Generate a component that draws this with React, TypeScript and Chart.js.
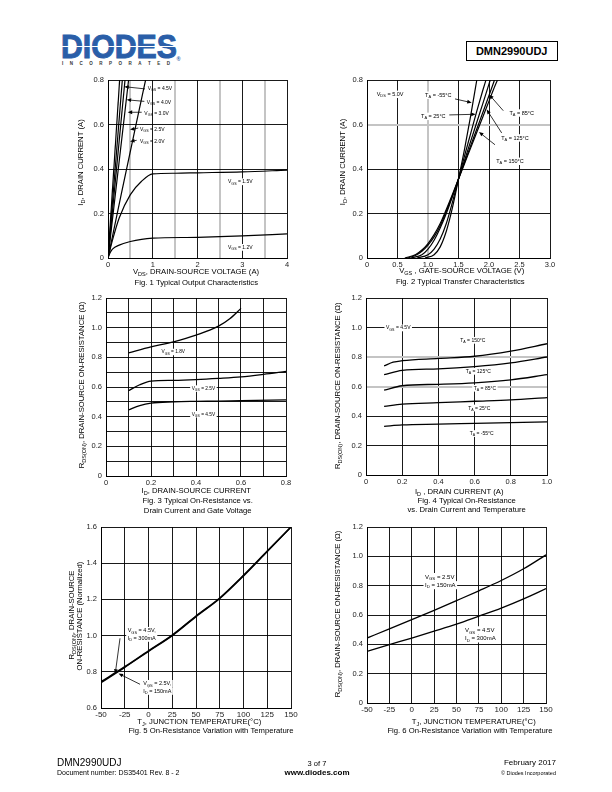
import React, { useEffect, useRef } from 'react';
import { Chart, registerables } from 'chart.js';

Chart.register(...registerables);

const FONT = '"Liberation Sans", Arial, Helvetica, sans-serif';

// ================= Fig. 1  Typical Output Characteristics =================
const F1_X_TICKS = [0, 0.5, 1, 1.5, 2, 2.5, 3, 3.5, 4];
const F1_X_LABELS = ['0', '', '1', '', '2', '', '3', '', '4'];
const F1_Y_TICKS = [0, 0.2, 0.4, 0.6, 0.8];
const F1_Y_LABELS = ['0', '0.2', '0.4', '0.6', '0.8'];
const F1_VGS_4_5 = [[0, 0], [0.26, 0.8]];
const F1_VGS_4_0 = [[0, 0], [0.32, 0.8]];
const F1_VGS_3_0 = [[0, 0], [0.38, 0.8]];
const F1_VGS_2_5 = [[0, 0], [0.46, 0.8]];
const F1_VGS_2_0 = [[0, 0], [0.3, 0.29], [0.6, 0.575], [0.84, 0.8]];
const F1_VGS_1_5 = [[0, 0], [0.1, 0.08], [0.25, 0.18], [0.5, 0.285], [0.75, 0.345], [1, 0.378], [1.5, 0.381], [2, 0.383], [3, 0.387], [4, 0.395]];
const F1_VGS_1_2 = [[0, 0], [0.05, 0.025], [0.1, 0.04], [0.25, 0.058], [0.5, 0.074], [0.75, 0.084], [1, 0.089], [2, 0.093], [3, 0.099], [4, 0.108]];

// ================= Fig. 2  Typical Transfer Characteristics =================
const F2_X_TICKS = [0, 0.5, 1, 1.5, 2, 2.5, 3];
const F2_X_LABELS = ['0', '0.5', '1.0', '1.5', '2.0', '2.5', '3.0'];
const F2_Y_TICKS = [0, 0.2, 0.4, 0.6, 0.8];
const F2_Y_LABELS = ['0', '0.2', '0.4', '0.6', '0.8'];
const F2_TA_M55 = [[0.95, 0], [1.1, 0.015], [1.2, 0.05], [1.3, 0.12], [1.4, 0.225], [1.5, 0.355], [1.6, 0.49], [1.7, 0.64], [1.8, 0.8]];
const F2_TA_25 = [[0.82, 0], [1.0, 0.015], [1.1, 0.04], [1.2, 0.085], [1.3, 0.155], [1.4, 0.25], [1.5, 0.355], [1.6, 0.46], [1.7, 0.56], [1.8, 0.66], [1.9, 0.755], [1.95, 0.8]];
const F2_TA_85 = [[0.72, 0], [0.9, 0.015], [1.0, 0.04], [1.1, 0.08], [1.2, 0.135], [1.3, 0.2], [1.4, 0.275], [1.5, 0.355], [1.6, 0.44], [1.7, 0.525], [1.8, 0.61], [1.9, 0.695], [2.02, 0.8]];
const F2_TA_125 = [[0.66, 0], [0.8, 0.012], [0.9, 0.03], [1.0, 0.058], [1.1, 0.095], [1.2, 0.145], [1.3, 0.21], [1.4, 0.28], [1.5, 0.355], [1.6, 0.43], [1.7, 0.505], [1.8, 0.58], [1.9, 0.655], [2.0, 0.73], [2.09, 0.8]];
const F2_TA_150 = [[0.62, 0], [0.8, 0.016], [0.9, 0.036], [1.0, 0.065], [1.1, 0.105], [1.2, 0.155], [1.3, 0.218], [1.4, 0.285], [1.5, 0.355], [1.6, 0.425], [1.7, 0.495], [1.8, 0.565], [1.9, 0.635], [2.0, 0.705], [2.1, 0.775], [2.14, 0.8]];

// ================= Fig. 3  On-Resistance vs Drain Current and Gate Voltage =================
const F3_X_TICKS = [0, 0.1, 0.2, 0.3, 0.4, 0.5, 0.6, 0.7, 0.8];
const F3_X_LABELS = ['0', '', '0.2', '', '0.4', '', '0.6', '', '0.8'];
const F3_Y_TICKS = [0, 0.1, 0.2, 0.3, 0.4, 0.5, 0.6, 0.7, 0.8, 0.9, 1.0, 1.1, 1.2];
const F3_Y_LABELS = ['0', '', '0.2', '', '0.4', '', '0.6', '', '0.8', '', '1.0', '', '1.2'];
const F3_VGS_1_8 = [[0.1, 0.83], [0.2, 0.87], [0.3, 0.905], [0.4, 0.95], [0.5, 1.01], [0.55, 1.06], [0.6, 1.13]];
const F3_VGS_2_5 = [[0.1, 0.575], [0.15, 0.615], [0.2, 0.64], [0.3, 0.645], [0.4, 0.65], [0.5, 0.658], [0.6, 0.668], [0.7, 0.685], [0.8, 0.705]];
const F3_VGS_4_5 = [[0.1, 0.445], [0.15, 0.475], [0.2, 0.492], [0.3, 0.5], [0.4, 0.503], [0.5, 0.505], [0.6, 0.508], [0.8, 0.513]];

// ================= Fig. 4  On-Resistance vs Drain Current and Temperature =================
const F4_X_TICKS = [0, 0.2, 0.4, 0.6, 0.8, 1.0];
const F4_X_LABELS = ['0', '0.2', '0.4', '0.6', '0.8', '1.0'];
const F4_Y_TICKS = [0, 0.2, 0.4, 0.6, 0.8, 1.0, 1.2];
const F4_Y_LABELS = ['0', '0.2', '0.4', '0.6', '0.8', '1.0', '1.2'];
const F4_TA_150 = [[0.1, 0.74], [0.15, 0.765], [0.2, 0.775], [0.4, 0.79], [0.6, 0.805], [0.8, 0.84], [1.0, 0.89]];
const F4_TA_125 = [[0.1, 0.68], [0.2, 0.71], [0.4, 0.72], [0.6, 0.735], [0.8, 0.76], [1.0, 0.8]];
const F4_TA_85 = [[0.1, 0.575], [0.2, 0.605], [0.4, 0.615], [0.6, 0.625], [0.8, 0.645], [1.0, 0.68]];
const F4_TA_25 = [[0.1, 0.465], [0.2, 0.48], [0.4, 0.49], [0.6, 0.5], [0.8, 0.51], [1.0, 0.525]];
const F4_TA_M55 = [[0.1, 0.33], [0.2, 0.34], [0.4, 0.345], [0.6, 0.35], [0.8, 0.355], [1.0, 0.36]];

// ================= Fig. 5  Normalized On-Resistance vs Temperature =================
const F5_X_TICKS = [-50, -25, 0, 25, 50, 75, 100, 125, 150];
const F5_X_LABELS = ['-50', '-25', '0', '25', '50', '75', '100', '125', '150'];
const F5_Y_TICKS = [0.6, 0.8, 1.0, 1.2, 1.4, 1.6];
const F5_Y_LABELS = ['0.6', '0.8', '1.0', '1.2', '1.4', '1.6'];
const F5_VGS_4_5 = [[-50, 0.74], [-25, 0.825], [0, 0.913], [25, 1.0], [50, 1.105], [75, 1.205], [100, 1.33], [125, 1.465], [150, 1.6]];
const F5_VGS_2_5 = [[-50, 0.745], [-25, 0.828], [0, 0.916], [25, 1.003], [50, 1.108], [75, 1.208], [100, 1.333], [125, 1.467], [150, 1.6]];

// ================= Fig. 6  On-Resistance vs Temperature =================
const F6_X_TICKS = [-50, -25, 0, 25, 50, 75, 100, 125, 150];
const F6_X_LABELS = ['-50', '-25', '0', '25', '50', '75', '100', '125', '150'];
const F6_Y_TICKS = [0, 0.2, 0.4, 0.6, 0.8, 1.0, 1.2];
const F6_Y_LABELS = ['0', '0.2', '0.4', '0.6', '0.8', '1.0', '1.2'];
const F6_VGS_2_5 = [[-50, 0.443], [-25, 0.505], [0, 0.568], [25, 0.632], [50, 0.698], [75, 0.765], [100, 0.835], [125, 0.915], [150, 1.01]];
const F6_VGS_4_5 = [[-50, 0.352], [-25, 0.398], [0, 0.443], [25, 0.49], [50, 0.538], [75, 0.592], [100, 0.647], [125, 0.71], [150, 0.78]];

// ---------------------------------------------------------------------------
type Ann = { lines: string[]; x: number; y: number; align?: string; arrow?: number[]; bg?: boolean };
type Txt = { text: string; x: number; y: number; rot?: boolean };
type Fig = {
  rect: number[];
  xTicks: number[]; xLabels: string[]; yTicks: number[]; yLabels: string[];
  xGrey?: number[]; yGrey?: number[];
  series: number[][][]; lineWidth: number;
  annSize: number; anns: Ann[]; texts: Txt[];
  tickSize: number; xTickSize?: number;
};

const TITLE = 7.7;

const FIGS: Fig[] = [
  {
    rect: [108, 80, 287, 258],
    xTicks: F1_X_TICKS, xLabels: F1_X_LABELS, yTicks: F1_Y_TICKS, yLabels: F1_Y_LABELS,
    xGrey: [0.5, 1.5, 2.5, 3.5],
    series: [F1_VGS_4_5, F1_VGS_4_0, F1_VGS_3_0, F1_VGS_2_5, F1_VGS_2_0, F1_VGS_1_5, F1_VGS_1_2],
    lineWidth: 1.2, tickSize: 7.5, annSize: 5,
    anns: [
      { lines: ['V_{GS} = 4.5V'], x: 0.887, y: 0.764, align: 'left', arrow: [0.827, 0.76, 0.364, 0.77] },
      { lines: ['V_{GS} = 4.0V'], x: 0.864, y: 0.701, align: 'left', arrow: [0.812, 0.704, 0.417, 0.711] },
      { lines: ['V_{GS} = 3.0V'], x: 0.812, y: 0.652, align: 'left', arrow: [0.753, 0.655, 0.44, 0.655] },
      { lines: ['V_{GS} = 2.5V'], x: 0.715, y: 0.581, align: 'left', arrow: [0.677, 0.584, 0.492, 0.577] },
      { lines: ['V_{GS} = 2.0V'], x: 0.715, y: 0.527, align: 'left', arrow: [0.641, 0.529, 0.492, 0.524] },
      { lines: ['V_{GS} = 1.5V'], x: 2.956, y: 0.344, align: 'center', bg: true },
      { lines: ['V_{GS} = 1.2V'], x: 2.956, y: 0.049, align: 'center', bg: true },
    ],
    texts: [
      { text: 'I_{D}, DRAIN CURRENT (A)', x: 80, y: 162.5, rot: true },
      { text: 'V_{DS}, DRAIN-SOURCE VOLTAGE (A)', x: 196, y: 271.5 },
      { text: 'Fig. 1 Typical Output Characteristics', x: 196.3, y: 282 },
    ],
  },
  {
    rect: [367, 80, 550, 258],
    xTicks: F2_X_TICKS, xLabels: F2_X_LABELS, yTicks: F2_Y_TICKS, yLabels: F2_Y_LABELS,
    xGrey: [1], yGrey: [0.6],
    series: [F2_TA_M55, F2_TA_25, F2_TA_85, F2_TA_125, F2_TA_150],
    lineWidth: 1.2, tickSize: 7.5, annSize: 5.5,
    anns: [
      { lines: ['V_{DS} = 5.0V'], x: 0.159, y: 0.737, align: 'left', bg: true },
      { lines: ['T_{A} = -55°C'], x: 1.169, y: 0.733, align: 'center', bg: true, arrow: [1.443, 0.715, 1.716, 0.698] },
      { lines: ['T_{A} = 25°C'], x: 1.087, y: 0.638, align: 'center', bg: true, arrow: [1.349, 0.643, 1.782, 0.646] },
      { lines: ['T_{A} = 85°C'], x: 2.536, y: 0.653, align: 'center', bg: true, arrow: [2.234, 0.662, 2.005, 0.734] },
      { lines: ['T_{A} = 125°C'], x: 2.426, y: 0.541, align: 'center', bg: true, arrow: [2.208, 0.562, 1.962, 0.667] },
      { lines: ['T_{A} = 150°C'], x: 2.344, y: 0.436, align: 'center', bg: true, arrow: [2.098, 0.509, 1.836, 0.566] },
    ],
    texts: [
      { text: 'I_{D}, DRAIN CURRENT (A)', x: 342, y: 162, rot: true },
      { text: 'V_{GS} , GATE-SOURCE VOLTAGE (V)', x: 461.7, y: 270 },
      { text: 'Fig. 2 Typical Transfer Characteristics', x: 460.3, y: 281.7 },
    ],
  },
  {
    rect: [106, 298, 286, 476],
    xTicks: F3_X_TICKS, xLabels: F3_X_LABELS, yTicks: F3_Y_TICKS, yLabels: F3_Y_LABELS,
    series: [F3_VGS_1_8, F3_VGS_2_5, F3_VGS_4_5],
    lineWidth: 1.3, tickSize: 7.5, annSize: 4.8,
    anns: [
      { lines: ['V_{GS} = 1.8V'], x: 0.299, y: 0.838, align: 'center', bg: true },
      { lines: ['V_{GS} = 2.5V'], x: 0.433, y: 0.591, align: 'center', bg: true },
      { lines: ['V_{GS} = 4.5V'], x: 0.433, y: 0.418, align: 'center', bg: true },
    ],
    texts: [
      { text: 'R_{DS(ON)}, DRAIN-SOURCE ON-RESISTANCE (Ω)', x: 81.7, y: 385, rot: true },
      { text: 'I_{D}, DRAIN-SOURCE CURRENT', x: 196.3, y: 490.3 },
      { text: 'Fig. 3 Typical On-Resistance vs.', x: 197.7, y: 500.7 },
      { text: 'Drain Current and Gate Voltage', x: 197.7, y: 510 },
    ],
  },
  {
    rect: [366, 298, 547, 475],
    xTicks: F4_X_TICKS, xLabels: F4_X_LABELS, yTicks: F4_Y_TICKS, yLabels: F4_Y_LABELS,
    yGrey: [0.6, 0.8],
    series: [F4_TA_150, F4_TA_125, F4_TA_85, F4_TA_25, F4_TA_M55],
    lineWidth: 1.3, tickSize: 7.5, annSize: 5,
    anns: [
      { lines: ['V_{GS} = 4.5V'], x: 0.178, y: 0.999, align: 'center', bg: true },
      { lines: ['T_{A} = 150°C'], x: 0.59, y: 0.915, align: 'center', bg: true },
      { lines: ['T_{A} = 125°C'], x: 0.62, y: 0.705, align: 'center', bg: true },
      { lines: ['T_{A} = 85°C'], x: 0.657, y: 0.59, align: 'center', bg: true },
      { lines: ['T_{A} = 25°C'], x: 0.626, y: 0.456, align: 'center', bg: true },
      { lines: ['T_{A} = -55°C'], x: 0.639, y: 0.283, align: 'center', bg: true },
    ],
    texts: [
      { text: 'R_{DS(ON)}, DRAIN-SOURCE ON-RESISTANCE (Ω)', x: 337.3, y: 385.7, rot: true },
      { text: 'I_{D} , DRAIN CURRENT (A)', x: 459.2, y: 491 },
      { text: 'Fig. 4 Typical On-Resistance', x: 466.7, y: 500.7 },
      { text: 'vs. Drain Current and Temperature', x: 466.7, y: 509 },
    ],
  },
  {
    rect: [101, 527, 291, 708],
    xTicks: F5_X_TICKS, xLabels: F5_X_LABELS, yTicks: F5_Y_TICKS, yLabels: F5_Y_LABELS,
    series: [F5_VGS_4_5, F5_VGS_2_5],
    lineWidth: 1.5, tickSize: 7.5, xTickSize: 8, annSize: 5.5,
    anns: [
      { lines: ['V_{GS} = 4.5V,', 'I_{D} = 300mA'], x: -21.9, y: 1.029, align: 'left', bg: true, arrow: [-30, 0.985, -35, 0.79] },
      { lines: ['V_{GS} = 2.5V,', 'I_{D} = 150mA'], x: -5.5, y: 0.736, align: 'left', bg: true, arrow: [-8.9, 0.731, -31.5, 0.79] },
    ],
    texts: [
      { text: 'R_{DS(ON)}, DRAIN-SOURCE', x: 71.5, y: 615, rot: true },
      { text: 'ON-RESISTANCE (Normalized)', x: 79.5, y: 616, rot: true },
      { text: 'T_{J}, JUNCTION TEMPERATURE(°C)', x: 199.3, y: 721 },
      { text: 'Fig. 5 On-Resistance Variation with Temperature', x: 211, y: 730.5 },
    ],
  },
  {
    rect: [367, 527, 546, 703],
    xTicks: F6_X_TICKS, xLabels: F6_X_LABELS, yTicks: F6_Y_TICKS, yLabels: F6_Y_LABELS,
    series: [F6_VGS_2_5, F6_VGS_4_5],
    lineWidth: 1.3, tickSize: 7.5, xTickSize: 8, annSize: 6,
    anns: [
      { lines: ['V_{GS} = 2.5V', 'I_{D} = 150mA'], x: 14.8, y: 0.861, align: 'left', bg: true },
      { lines: ['V_{GS} = 4.5V', 'I_{D} = 300mA'], x: 59.5, y: 0.498, align: 'left', bg: true },
    ],
    texts: [
      { text: 'R_{DS(ON)}, DRAIN-SOURCE ON-RESISTANCE (Ω)', x: 337.3, y: 614, rot: true },
      { text: 'T_{J}, JUNCTION TEMPERATURE(°C)', x: 473.7, y: 721 },
      { text: 'Fig. 6 On-Resistance Variation with Temperature', x: 470, y: 730.5 },
    ],
  },
];

// ---------------------------------------------------------------------------
function fontStr(size: number, bold = false) {
  return `${bold ? 'bold ' : ''}${size}px ${FONT}`;
}
function parseRich(s: string) {
  const out: { t: string; sub: boolean }[] = [];
  const re = /_\{([^}]*)\}/g;
  let last = 0;
  let m: any;
  while ((m = re.exec(s))) {
    if (m.index > last) out.push({ t: s.slice(last, m.index), sub: false });
    out.push({ t: m[1], sub: true });
    last = re.lastIndex;
  }
  if (last < s.length) out.push({ t: s.slice(last), sub: false });
  return out;
}
function richWidth(ctx: CanvasRenderingContext2D, s: string, size: number) {
  let w = 0;
  for (const g of parseRich(s)) {
    ctx.font = fontStr(g.sub ? size * 0.72 : size);
    w += ctx.measureText(g.t).width;
  }
  return w;
}
// y is the visual centre of capital letters
function drawRich(ctx: CanvasRenderingContext2D, s: string, x: number, y: number, size: number, align = 'center') {
  const w = richWidth(ctx, s, size);
  let cx = align === 'center' ? x - w / 2 : align === 'right' ? x - w : x;
  const base = y + size * 0.36;
  ctx.textAlign = 'left';
  ctx.textBaseline = 'alphabetic';
  ctx.fillStyle = '#000';
  for (const g of parseRich(s)) {
    const fs = g.sub ? size * 0.72 : size;
    ctx.font = fontStr(fs);
    ctx.fillText(g.t, cx, base + (g.sub ? size * 0.25 : 0));
    cx += ctx.measureText(g.t).width;
  }
  return w;
}
function drawArrow(ctx: CanvasRenderingContext2D, x1: number, y1: number, x2: number, y2: number) {
  const head = 4.5, hw = 1.9;
  const a = Math.atan2(y2 - y1, x2 - x1);
  const c = Math.cos(a), s = Math.sin(a);
  ctx.save();
  ctx.strokeStyle = '#000';
  ctx.fillStyle = '#000';
  ctx.lineWidth = 0.8;
  ctx.beginPath();
  ctx.moveTo(x1, y1);
  ctx.lineTo(x2 - c * head * 0.8, y2 - s * head * 0.8);
  ctx.stroke();
  ctx.beginPath();
  ctx.moveTo(x2, y2);
  ctx.lineTo(x2 - c * head - s * hw, y2 - s * head + c * hw);
  ctx.lineTo(x2 - c * head + s * hw, y2 - s * head - c * hw);
  ctx.closePath();
  ctx.fill();
  ctx.restore();
}

const PAD_L = 50, PAD_T = 10, PAD_R = 14, PAD_B = 45, XAXIS_H = 12;

function ChartBox({ fig }: { fig: Fig }) {
  const ref = useRef<HTMLCanvasElement>(null);
  const [L, T, R, B] = fig.rect;
  const cl = L - PAD_L, ct = T - PAD_T;
  const cw = R - L + PAD_L + PAD_R, ch = B - T + PAD_T + PAD_B;

  useEffect(() => {
    const canvas = ref.current;
    if (!canvas) return;
    const annPlugin = {
      id: 'annotations',
      beforeDatasetsDraw(chart: any) {
        const ctx = chart.ctx as CanvasRenderingContext2D;
        const xs = chart.scales.x, ys = chart.scales.y;
        ctx.save();
        for (const a of fig.anns) {
          const px = xs.getPixelForValue(a.x), py = ys.getPixelForValue(a.y);
          a.lines.forEach((line, i) => {
            const cy = py + i * fig.annSize * 1.35;
            const w = richWidth(ctx, line, fig.annSize);
            const align = a.align || 'center';
            const left = align === 'center' ? px - w / 2 : align === 'right' ? px - w : px;
            if (a.bg) {
              ctx.fillStyle = '#fff';
              ctx.fillRect(left - 1.5, cy - fig.annSize * 0.62, w + 3, fig.annSize * 1.35);
            }
            drawRich(ctx, line, px, cy, fig.annSize, align);
          });
        }
        ctx.restore();
      },
      afterDatasetsDraw(chart: any) {
        const ctx = chart.ctx as CanvasRenderingContext2D;
        const xs = chart.scales.x, ys = chart.scales.y;
        for (const a of fig.anns) {
          if (!a.arrow) continue;
          const [x1, y1, x2, y2] = a.arrow;
          drawArrow(ctx, xs.getPixelForValue(x1), ys.getPixelForValue(y1), xs.getPixelForValue(x2), ys.getPixelForValue(y2));
        }
      },
      afterDraw(chart: any) {
        const ctx = chart.ctx as CanvasRenderingContext2D;
        for (const t of fig.texts) {
          const x = t.x - cl, y = t.y - ct;
          ctx.save();
          if (t.rot) {
            ctx.translate(x, y);
            ctx.rotate(-Math.PI / 2);
            drawRich(ctx, t.text, 0, 0, TITLE, 'center');
          } else {
            drawRich(ctx, t.text, x, y, TITLE, 'center');
          }
          ctx.restore();
        }
      },
    };

    const gridOpts = (grey?: number[]) => ({
      drawTicks: false,
      color: (c: any) => (grey && c.tick && grey.includes(c.tick.value) ? '#c4c4c4' : '#000'),
      lineWidth: (c: any) => (grey && c.tick && grey.includes(c.tick.value) ? 2 : 0.9),
    });

    const chart = new Chart(canvas, {
      type: 'line',
      data: {
        datasets: fig.series.map((s) => ({
          data: s.map(([x, y]) => ({ x, y })),
          borderColor: '#000',
          borderWidth: fig.lineWidth,
          pointRadius: 0,
          fill: false,
          cubicInterpolationMode: 'monotone' as const,
        })),
      },
      options: {
        responsive: false,
        animation: false,
        events: [],
        layout: { padding: { left: 0, top: PAD_T, right: PAD_R, bottom: PAD_B - XAXIS_H } },
        plugins: { legend: { display: false }, tooltip: { enabled: false } },
        scales: {
          x: {
            type: 'linear',
            min: fig.xTicks[0],
            max: fig.xTicks[fig.xTicks.length - 1],
            afterBuildTicks: (sc: any) => { sc.ticks = fig.xTicks.map((v) => ({ value: v })); },
            afterFit: (sc: any) => { sc.height = XAXIS_H; },
            ticks: {
              autoSkip: false, maxRotation: 0, padding: 2, color: '#222',
              font: { family: FONT, size: fig.xTickSize || fig.tickSize },
              callback: (_v: any, i: number) => fig.xLabels[i],
            },
            grid: gridOpts(fig.xGrey),
            border: { display: true, color: '#000', width: 1 },
          },
          y: {
            type: 'linear',
            min: fig.yTicks[0],
            max: fig.yTicks[fig.yTicks.length - 1],
            afterBuildTicks: (sc: any) => { sc.ticks = fig.yTicks.map((v) => ({ value: v })); },
            afterFit: (sc: any) => { sc.width = PAD_L; },
            ticks: {
              autoSkip: false, padding: 4, color: '#222',
              font: { family: FONT, size: fig.tickSize },
              callback: (_v: any, i: number) => fig.yLabels[i],
            },
            grid: gridOpts(fig.yGrey),
            border: { display: true, color: '#000', width: 1 },
          },
        },
      } as any,
      plugins: [annPlugin],
    });
    return () => chart.destroy();
  }, []);

  return (
    <canvas
      ref={ref}
      width={cw}
      height={ch}
      style={{ position: 'absolute', left: cl, top: ct, width: cw, height: ch }}
    />
  );
}

const BLUE = '#2a5ea8';

export default function App() {
  const abs = (l: number, t: number, extra: any = {}) => ({ position: 'absolute' as const, left: l, top: t, whiteSpace: 'nowrap' as const, ...extra });
  return (
    <div style={{ position: 'absolute', left: 0, top: 0, width: 612, height: 792, background: '#fff', overflow: 'hidden', fontFamily: FONT, color: '#000' }}>
      {/* Logo */}
      <div style={abs(61, 31, { color: BLUE, font: `bold 32.5px ${FONT}`, lineHeight: '32px', WebkitTextStroke: `1px ${BLUE}`, transform: 'scaleX(0.93)', transformOrigin: 'left top' })}>DIODES</div>
      <div style={abs(61, 46, { width: 118, height: 1.2, background: '#fff' })} />
      <div style={abs(62, 61, { width: 108, display: 'flex', justifyContent: 'space-between', font: `bold 4.5px ${FONT}`, lineHeight: '5px', color: '#333' })}>
        {'INCORPORATED'.split('').map((c, i) => <span key={i}>{c}</span>)}
      </div>
      <div style={abs(176.5, 56, { font: `bold 5.5px ${FONT}`, color: BLUE, lineHeight: '6px' })}>®</div>

      {/* Part number box */}
      <div style={abs(465.7, 40.7, { width: 90, height: 18, border: '1px solid #000', font: `bold 11px ${FONT}`, lineHeight: '18px', textAlign: 'center' })}>DMN2990UDJ</div>

      {FIGS.map((f, i) => <ChartBox key={i} fig={f} />)}

      {/* Footer */}
      <div style={abs(57, 757, { font: `10px ${FONT}`, lineHeight: '12px' })}>DMN2990UDJ</div>
      <div style={abs(57, 768.5, { font: `7px ${FONT}`, lineHeight: '8px' })}>Document number: DS35401 Rev. 8 - 2</div>
      <div style={abs(267, 758.5, { width: 100, textAlign: 'center', font: `7.5px ${FONT}`, lineHeight: '9px' })}>3 of 7</div>
      <div style={abs(267, 767.5, { width: 100, textAlign: 'center', font: `bold 8px ${FONT}`, lineHeight: '9px' })}>www.diodes.com</div>
      <div style={abs(456, 758, { width: 100, textAlign: 'right', font: `8px ${FONT}`, lineHeight: '10px' })}>February 2017</div>
      <div style={abs(456, 769.5, { width: 100, textAlign: 'right', font: `5.5px ${FONT}`, lineHeight: '6px' })}>© Diodes Incorporated</div>
    </div>
  );
}
